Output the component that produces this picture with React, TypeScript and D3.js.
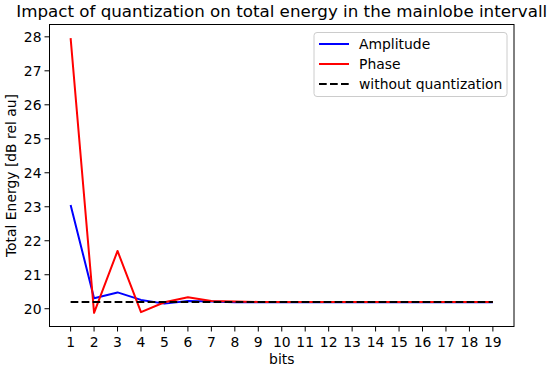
import React from "react";
import * as d3 from "d3";

const bits = [1, 2, 3, 4, 5, 6, 7, 8, 9, 10, 11, 12, 13, 14, 15, 16, 17, 18, 19];
const amplitude = [23.05, 20.31, 20.48, 20.26, 20.15, 20.23, 20.21, 20.19, 20.19, 20.19, 20.19, 20.19, 20.19, 20.19, 20.19, 20.19, 20.19, 20.19, 20.19];
const phase = [27.96, 19.88, 21.7, 19.9, 20.19, 20.34, 20.23, 20.21, 20.2, 20.2, 20.2, 20.2, 20.2, 20.2, 20.2, 20.2, 20.2, 20.2, 20.2];
const reference = 20.2;
const yTicks = [20, 21, 22, 23, 24, 25, 26, 27, 28];
const legendLabels = ["Amplitude", "Phase", "without quantization"];

const W = 550, H = 370;
const left = 49.5, right = 514, top = 24.5, bottom = 326.5;
const font = "DejaVu Sans, sans-serif";

export default function App() {
  const x = d3.scaleLinear().domain([0.1, 19.9]).range([left, right]);
  const y = d3.scaleLinear().domain([19.477, 28.363]).range([bottom, top]);
  const line = d3.line<number>().x((_, i) => x(bits[i])).y((v) => y(v));
  const refLine = d3.line<number>().x((b) => x(b)).y(() => y(reference));
  const colors = ["#0000ff", "#ff0000", "#000000"];
  return (
    <svg width={W} height={H} style={{ position: "absolute", left: 0, top: 0, background: "#fff" }} fontFamily={font}>
      <text x={(left + right) / 2} y={17} textAnchor="middle" fontSize={16.7} fill="#000">
        Impact of quantization on total energy in the mainlobe intervall
      </text>
      <defs>
        <clipPath id="clip">
          <rect x={left} y={top} width={right - left} height={bottom - top} />
        </clipPath>
      </defs>
      <g clipPath="url(#clip)">
        <path d={line(amplitude) || ""} fill="none" stroke={colors[0]} strokeWidth={2} strokeLinejoin="round" />
        <path d={line(phase) || ""} fill="none" stroke={colors[1]} strokeWidth={2} strokeLinejoin="round" />
        <path d={refLine(bits) || ""} fill="none" stroke={colors[2]} strokeWidth={2} strokeDasharray="7.7,3.3" />
      </g>
      <rect x={left} y={top} width={right - left} height={bottom - top} fill="none" stroke="#000" strokeWidth={1} />
      {bits.map((b) => (
        <g key={b}>
          <line x1={x(b)} x2={x(b)} y1={bottom} y2={bottom + 5} stroke="#000" strokeWidth={1} />
          <text x={x(b)} y={347} textAnchor="middle" fontSize={13.9} fill="#000">{b}</text>
        </g>
      ))}
      {yTicks.map((t) => (
        <g key={t}>
          <line x1={left - 5} x2={left} y1={y(t)} y2={y(t)} stroke="#000" strokeWidth={1} />
          <text x={left - 8} y={y(t) + 5} textAnchor="end" fontSize={13.9} fill="#000">{t}</text>
        </g>
      ))}
      <text x={(left + right) / 2} y={364} textAnchor="middle" fontSize={13.9} fill="#000">bits</text>
      <text transform={`translate(16,${(top + bottom) / 2}) rotate(-90)`} textAnchor="middle" fontSize={13.9} fill="#000">
        Total Energy [dB rel au]
      </text>
      <rect x={314} y={32.5} width={193} height={64} rx={3} fill="#fff" fillOpacity={0.8} stroke="#cccccc" strokeWidth={1} />
      {legendLabels.map((l, i) => (
        <g key={l}>
          <line x1={319} x2={349} y1={44 + i * 20} y2={44 + i * 20} stroke={colors[i]} strokeWidth={2}
            strokeDasharray={i === 2 ? "7.7,3.3" : undefined} />
          <text x={359} y={44 + i * 20 + 5} fontSize={13.9} fill="#000">{l}</text>
        </g>
      ))}
    </svg>
  );
}
